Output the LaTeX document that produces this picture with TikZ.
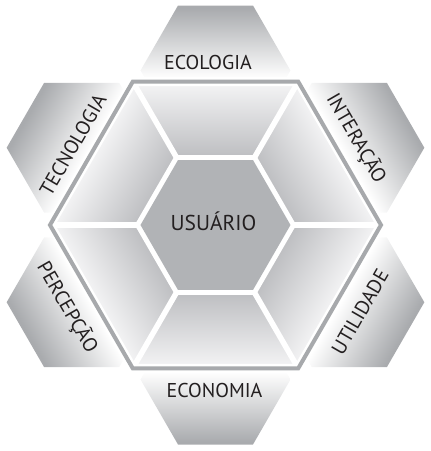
\documentclass[tikz,border=0pt]{standalone}
\usepackage{fontspec}
\setmainfont{PT Sans}
\definecolor{hexgray}{HTML}{B1B3B6}
\definecolor{bordergray}{HTML}{A7A9AC}
\definecolor{tiledark}{HTML}{BBBCBF}
\definecolor{tilelight}{HTML}{F5F5F6}
\definecolor{outergray}{HTML}{A9ABAE}
\definecolor{txt}{HTML}{231F20}
\pgfdeclareverticalshading{outerfade}{100bp}{color(0bp)=(white); color(47bp)=(white); color(74bp)=(outergray); color(100bp)=(outergray)}
\tikzset{
  lbl/.style={font=\fontsize{20}{20}\selectfont, text=txt, inner sep=0pt, text height=14pt, text depth=0pt, anchor=center},
  biglbl/.style={lbl, font=\fontsize{21.5}{21.5}\selectfont, text height=15pt},
  tileshade/.style={top color=tilelight, bottom color=tiledark},
  outershade/.style={shading=outerfade},
}
\begin{document}
\begin{tikzpicture}[x=1pt,y=1pt]
\useasboundingbox (-215.5,-226) rectangle (215.5,225);
% outer small hexagons
\foreach \a in {0,-60,-120,180,120,60}{
  \begin{scope}[transform canvas={rotate=\a}]
    \shade[outershade] (75,154.5) -- (37.5,219.5) -- (-37.5,219.5) -- (-75,154.5) -- (-37.5,89.5) -- (37.5,89.5) -- cycle;
  \end{scope}
}
\fill[white] (0:168) -- (60:168) -- (120:168) -- (180:168) -- (240:168) -- (300:168) -- cycle;
% trapezoid tiles
\foreach \a in {0,-60,-120,180,120,60}{
  \begin{scope}[transform canvas={rotate=\a}]
    \shade[tileshade] (60:75) -- (60:165.5) -- (120:165.5) -- (120:75) -- cycle;
  \end{scope}
}
% white separators
\foreach \k in {0,...,5}{
  \draw[white, line width=5.5pt] (0,0) -- (\k*60:168);
}
\draw[white, line width=10pt, line join=miter] (0:75) -- (60:75) -- (120:75) -- (180:75) -- (240:75) -- (300:75) -- cycle;
\fill[hexgray] (0:75) -- (60:75) -- (120:75) -- (180:75) -- (240:75) -- (300:75) -- cycle;
% outer border
\draw[white, line width=9pt, line join=miter] (0:165.5) -- (60:165.5) -- (120:165.5) -- (180:165.5) -- (240:165.5) -- (300:165.5) -- cycle;
\draw[bordergray, line width=4pt, line join=miter] (0:165.5) -- (60:165.5) -- (120:165.5) -- (180:165.5) -- (240:165.5) -- (300:165.5) -- cycle;
% labels
\node[biglbl] (usuario) at (-2,2) {USUÁRIO};
\node[lbl] (ecologia) at (-7.5,163) {ECOLOGIA};
\node[lbl] (economia) at (-1,-165) {ECONOMIA};
\node[lbl, rotate=60] (tecnologia) at (-142.5,80) {TECNOLOGIA};
\node[lbl, rotate=-60] (interacao) at (141.5,87) {INTERAÇÃO};
\node[lbl, rotate=-60] (percepcao) at (-147.5,-82) {PERCEPÇÃO};
\node[lbl, rotate=60] (utilidade) at (144.5,-87) {UTILIDADE};
\end{tikzpicture}
\end{document}
